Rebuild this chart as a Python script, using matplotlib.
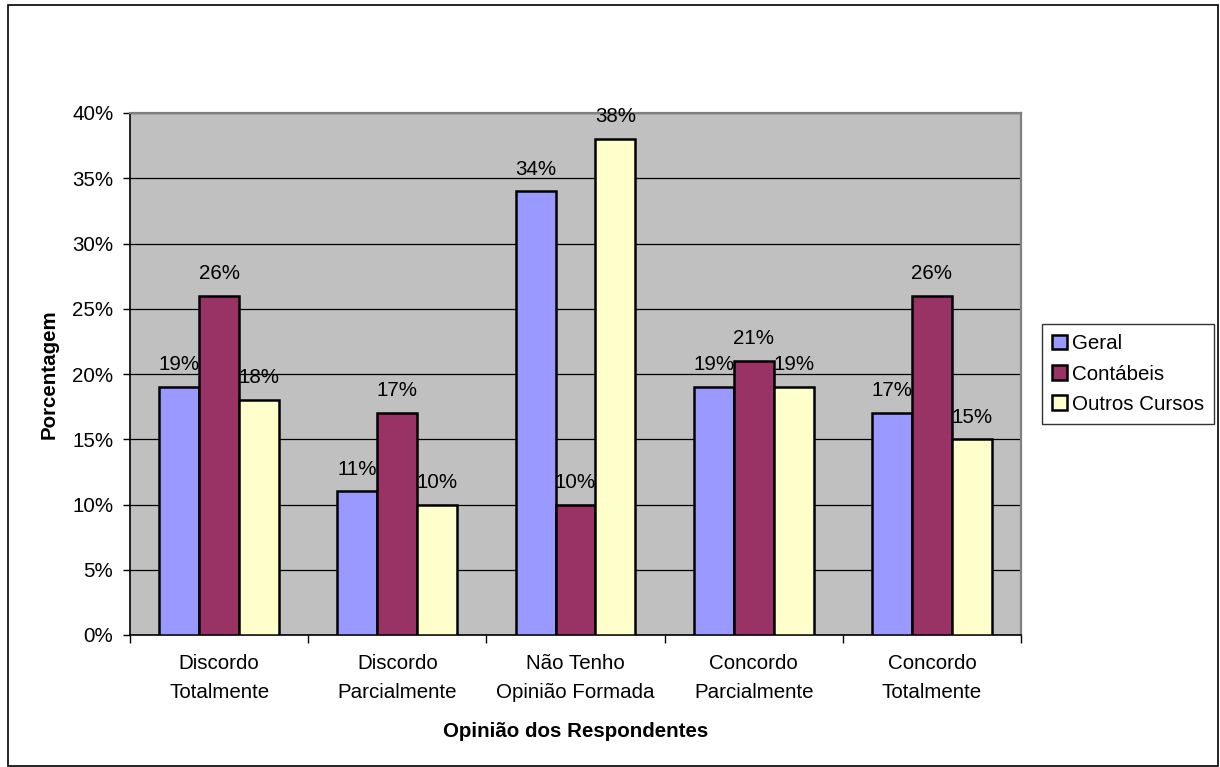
import matplotlib
matplotlib.use("Agg")
import matplotlib.pyplot as plt
import numpy as np
from matplotlib.patches import Patch, Rectangle

plt.rcParams['font.family'] = ['Liberation Sans', 'DejaVu Sans']

categories = ["Discordo\nTotalmente", "Discordo\nParcialmente", "Não Tenho\nOpinião Formada",
              "Concordo\nParcialmente", "Concordo\nTotalmente"]
series_names = ["Geral", "Contábeis", "Outros Cursos"]
geral = [19, 11, 34, 19, 17]
contabeis = [26, 17, 10, 21, 26]
outros = [18, 10, 38, 19, 15]
colors = ["#9999FF", "#993366", "#FFFFCC"]
yticks = [0, 5, 10, 15, 20, 25, 30, 35, 40]

FS = 14.8

fig = plt.figure(figsize=(12.2, 7.67), dpi=100)
fig.patches.append(Rectangle((8/1220, 0.001), (1218-8)/1220, 1-5/767-0.001, transform=fig.transFigure,
                             fill=False, edgecolor='black', linewidth=1.2))
ax = fig.add_axes([130/1220, 1-635/767, (1021-130)/1220, (635-113)/767])
ax.set_facecolor('#C0C0C0')

x = np.arange(len(categories))
w = 0.224
for i, (vals, c) in enumerate(zip([geral, contabeis, outros], colors)):
    pos = x + (i - 1) * w
    bars = ax.bar(pos, vals, width=w, color=c, edgecolor='black', linewidth=1.8, zorder=3)
    for b, v in zip(bars, vals):
        ax.annotate(f"{v}%", (b.get_x() + b.get_width()/2, v), xytext=(0, 12),
                    textcoords='offset points', ha='center', va='baseline', fontsize=FS, zorder=4)

ax.set_xlim(-0.5, len(categories) - 0.5)
ax.set_ylim(0, 40)
ax.set_yticks(yticks)
ax.set_yticklabels([f"{t}%" for t in yticks], fontsize=FS)
ax.yaxis.grid(True, color='black', linewidth=0.9, zorder=1)
ax.set_axisbelow(True)
ax.tick_params(axis='y', length=5, width=1, pad=7)

ax.set_xticks(np.arange(len(categories) + 1) - 0.5)
ax.set_xticklabels([])
ax.set_xticks(x, minor=True)
ax.set_xticklabels(categories, minor=True, fontsize=FS, linespacing=1.65)
ax.tick_params(axis='x', which='major', length=6, width=1)
ax.tick_params(axis='x', which='minor', length=0, pad=14)

for s in ['left', 'bottom']:
    ax.spines[s].set_color('black')
    ax.spines[s].set_linewidth(1.2)
for s in ['top', 'right']:
    ax.spines[s].set_color('#808080')
    ax.spines[s].set_linewidth(1.6)

ax.set_ylabel("Porcentagem", fontsize=FS, fontweight='bold', labelpad=10)
ax.set_xlabel("Opinião dos Respondentes", fontsize=FS, fontweight='bold', labelpad=14)

handles = [Patch(facecolor=c, edgecolor='black', linewidth=1.8) for c in colors]
leg = fig.legend(handles, series_names, loc='center left', bbox_to_anchor=(1042/1220, 1-374/767),
                 fontsize=FS, frameon=True, fancybox=False, shadow=False,
                 handlelength=0.7, handleheight=0.7, handletextpad=0.25, borderpad=0.5,
                 labelspacing=0.55, borderaxespad=0)
leg.get_frame().set_edgecolor('black')
leg.get_frame().set_linewidth(1.0)

fig.savefig("out.png", dpi=100)
